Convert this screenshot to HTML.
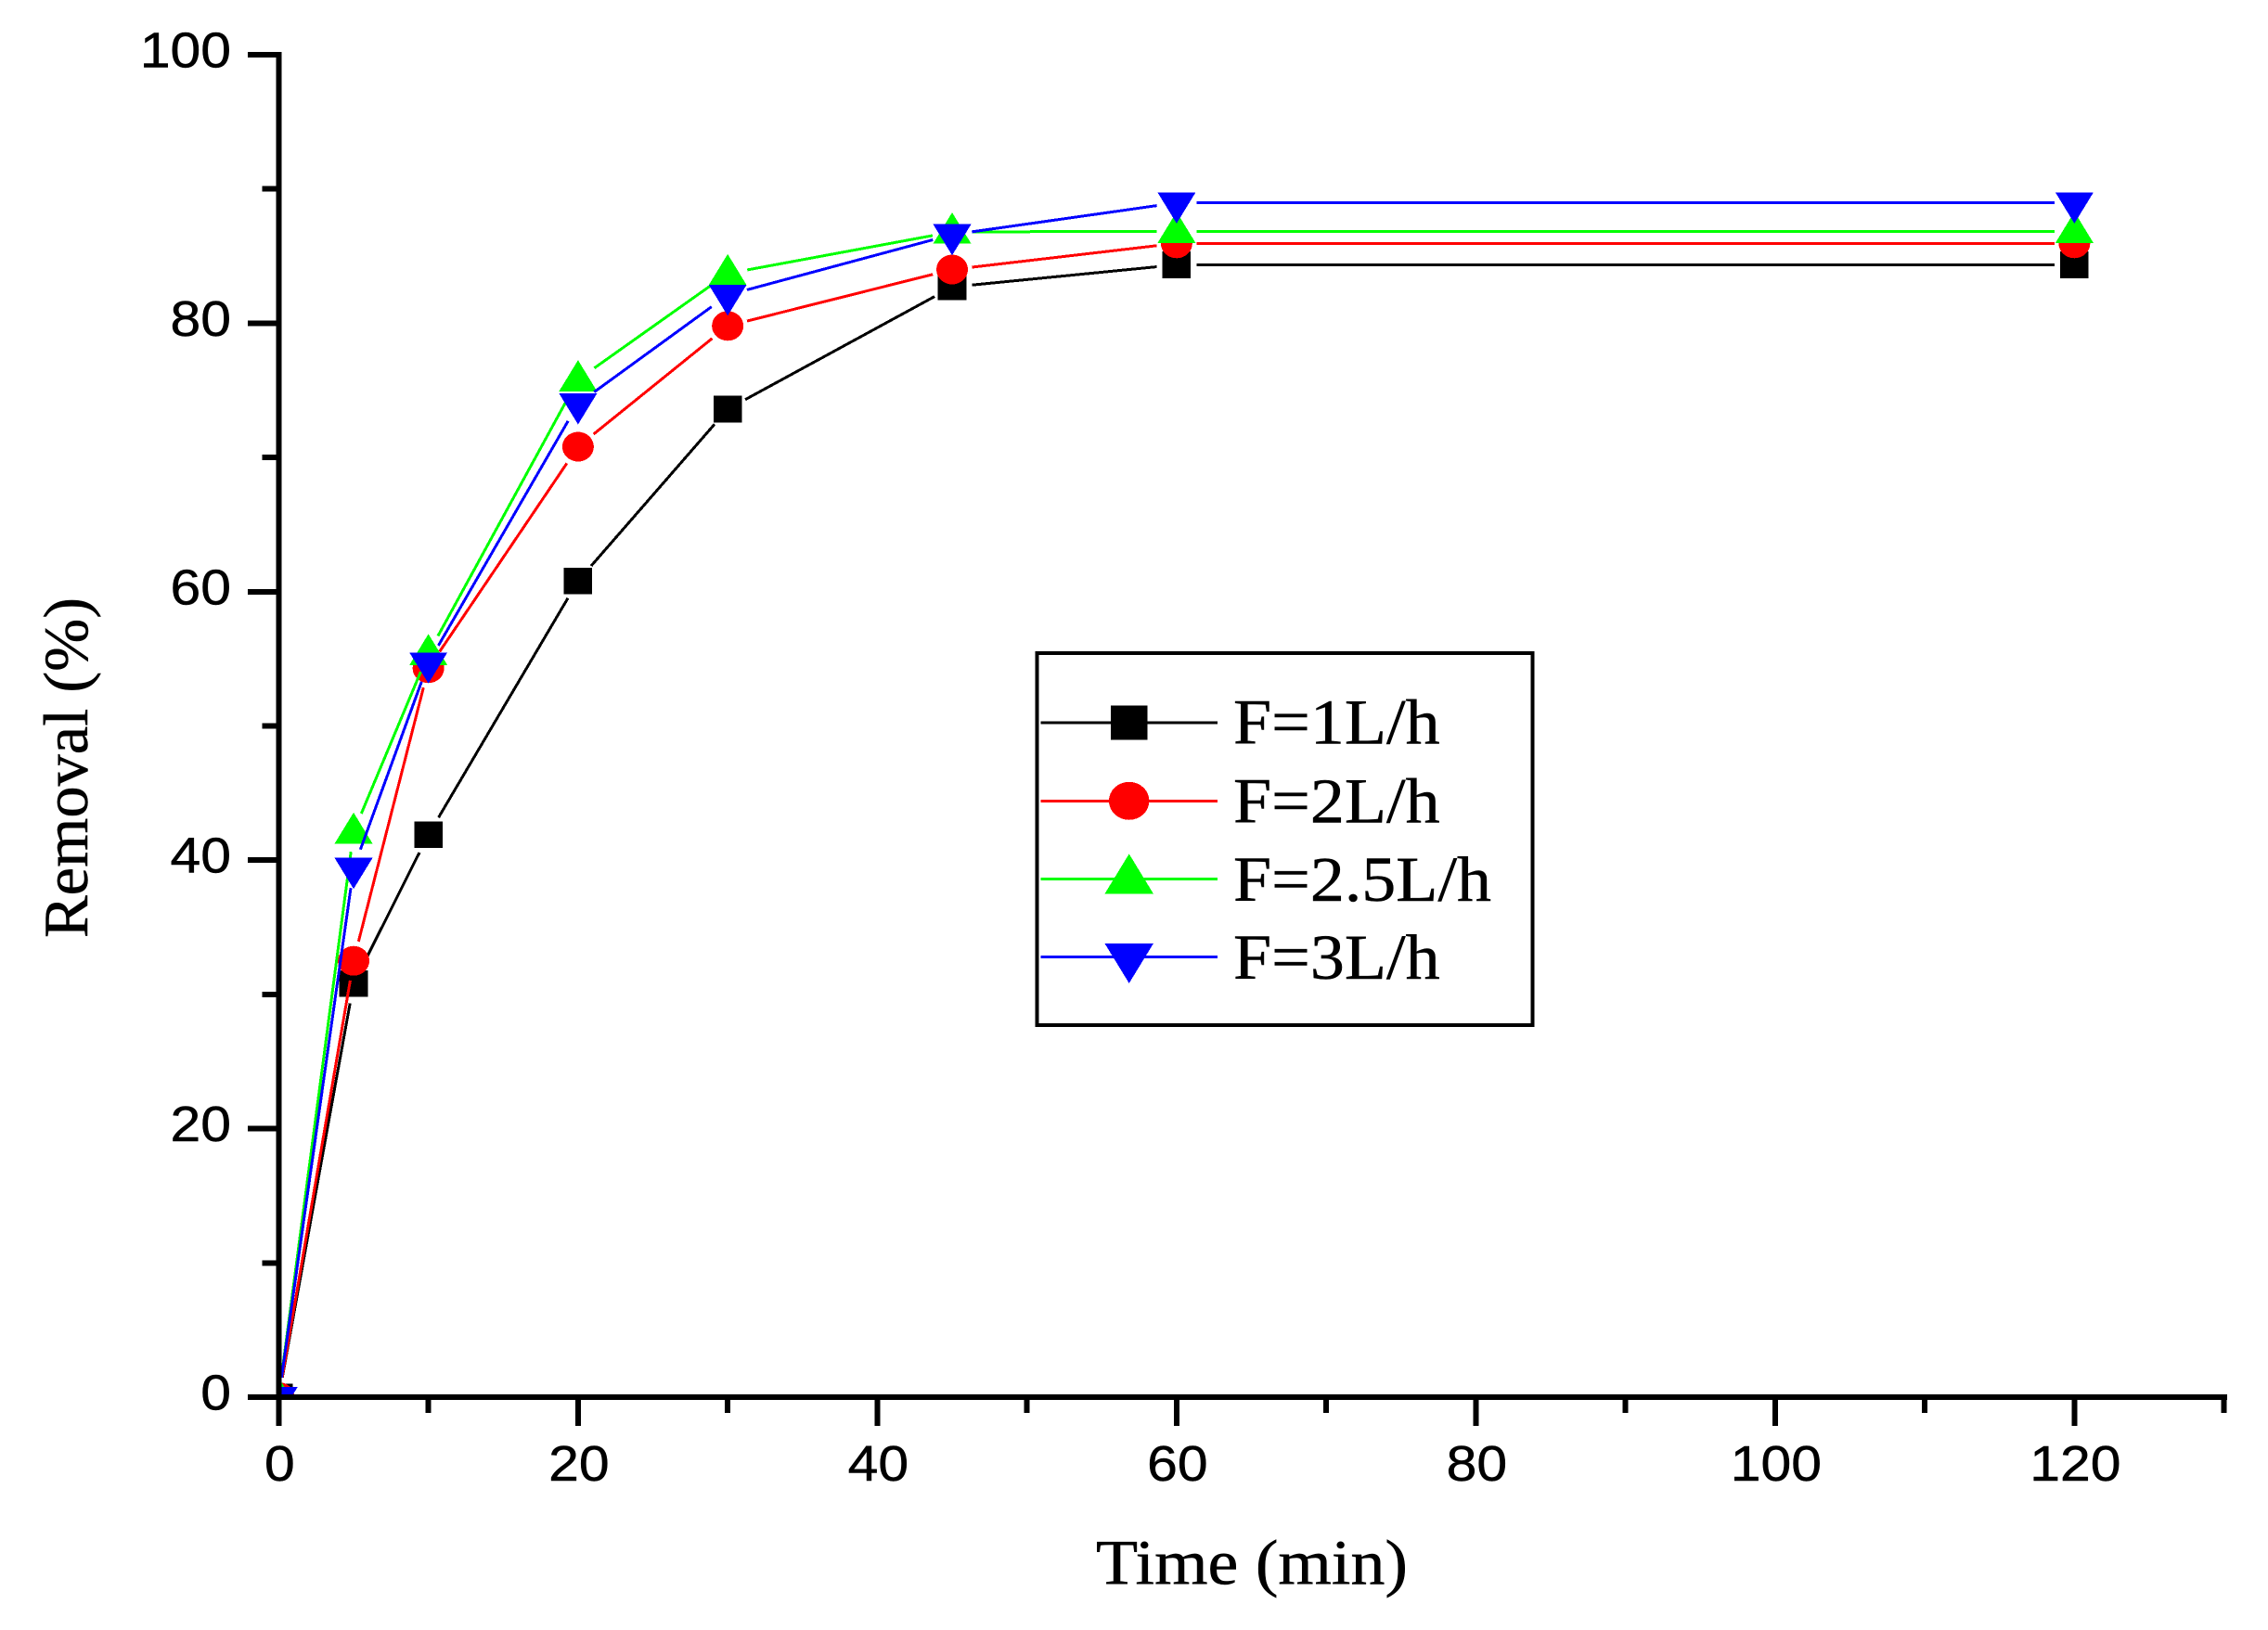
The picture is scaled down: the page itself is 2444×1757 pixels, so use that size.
<!DOCTYPE html>
<html lang="en">
<head>
<meta charset="utf-8">
<title>Removal vs Time</title>
<style>
html,body{margin:0;padding:0;background:#fff;}
svg{display:block;}
text{fill:#000;stroke:#000;stroke-width:0.5px;}
line,rect,polygon,ellipse{shape-rendering:crispEdges;}
.sans{font-family:"Liberation Sans",Arial,sans-serif;}
.serif{font-family:"Liberation Serif","Times New Roman",serif;}
</style>
</head>
<body>
<svg id="chart" xmlns="http://www.w3.org/2000/svg" width="2444" height="1757" viewBox="0 0 2444 1757">
  <defs>
    <clipPath id="plot-clip"><rect x="300" y="0" width="2144" height="1506"></rect></clipPath>
  </defs>
  <rect x="0" y="0" width="2444" height="1757" fill="#fff"></rect>
  <g id="series-layer"></g>
  <g id="axes-layer"></g>
  <text class="serif" x="1181" y="1707.5" font-size="69" textLength="336" lengthAdjust="spacingAndGlyphs">Time (min)</text>
  <text class="serif" transform="translate(94,1011) rotate(-90)" x="0" y="0" font-size="68" textLength="367" lengthAdjust="spacingAndGlyphs">Removal (%)</text>
  <rect x="1117.5" y="704" width="534" height="401" fill="#fff" stroke="#000" stroke-width="4"></rect>
  <g id="legend-layer"></g>
</svg>
<script>
const times = [0, 5, 10, 20, 30, 45, 60, 120];
const seriesNames = ["F=1L/h", "F=2L/h", "F=2.5L/h", "F=3L/h"];
const removal1 = [0, 30.8, 41.9, 60.8, 73.6, 82.7, 84.35, 84.35];
const removal2 = [0, 32.5, 54.3, 70.8, 79.8, 84.0, 85.95, 85.95];
const removal25 = [0, 42.1, 55.4, 75.8, 83.7, 86.8, 86.85, 86.85];
const removal3 = [0, 39.4, 54.7, 74.0, 82.1, 86.6, 88.97, 88.97];
const xMajorTicks = [0, 20, 40, 60, 80, 100, 120];
const xMinorTicks = [10, 30, 50, 70, 90, 110, 130];
const yMajorTicks = [0, 20, 40, 60, 80, 100];
const yMinorTicks = [10, 30, 50, 70, 90];

const NS = "http://www.w3.org/2000/svg";
function xScale(v) { return 300.4 + (v / 130) * 2096.25; }
function yScale(v) { return 1506 - (v / 100) * 1447; }
function make(tag, attrs, parent) {
  const el = document.createElementNS(NS, tag);
  for (const k in attrs) el.setAttribute(k, attrs[k]);
  parent.appendChild(el);
  return el;
}
function marker(kind, cx, cy, k, color, parent) {
  let el;
  if (kind === "square") {
    el = make("rect", { x: cx - 15.3 * k, y: cy - 14.3 * k, width: 30.6 * k, height: 28.6 * k, fill: color }, parent);
  } else if (kind === "circle") {
    el = make("ellipse", { cx: cx, cy: cy, rx: 17 * k, ry: 16 * k, fill: color }, parent);
  } else if (kind === "up") {
    const top = cy - 21 * k, bot = cy + 12.6 * k;
    el = make("polygon", { points: `${cx},${top} ${cx + 20.5 * k},${bot} ${cx - 20.5 * k},${bot}`, fill: color }, parent);
  } else {
    const top = cy - 11.2 * k, bot = cy + 22.3 * k;
    el = make("polygon", { points: `${cx - 20.5 * k},${top} ${cx + 20.5 * k},${top} ${cx},${bot}`, fill: color }, parent);
  }
  return el;
}

const seriesLayer = document.getElementById("series-layer");
const allSeries = [removal1, removal2, removal25, removal3];
const colors = ["#000000", "#ff0000", "#00ff00", "#0000ff"];
const kinds = ["square", "circle", "up", "down"];
const GAP = 21.5;
allSeries.forEach(function (values, s) {
  const g = make("g", { "clip-path": "url(#plot-clip)" }, seriesLayer);
  
  
  for (let i = 0; i < times.length - 1; i++) {
    const x1 = xScale(times[i]), y1 = yScale(values[i]);
    const x2 = xScale(times[i + 1]), y2 = yScale(values[i + 1]);
    const len = Math.hypot(x2 - x1, y2 - y1);
    if (len <= GAP * 2) continue;
    const ux = (x2 - x1) / len, uy = (y2 - y1) / len;
    const seg = make("line", {
      x1: x1 + ux * GAP, y1: y1 + uy * GAP,
      x2: x2 - ux * GAP, y2: y2 - uy * GAP,
      stroke: colors[s], "stroke-width": 3
    }, g);
    
    
  }
  times.forEach(function (t, i) {
    const m = marker(kinds[s], xScale(t), yScale(values[i]), 1, colors[s], g);
    
    
  });
});

const axes = document.getElementById("axes-layer");
const yLine = make("line", { x1: 300.4, y1: 56, x2: 300.4, y2: 1537, stroke: "#000", "stroke-width": 6 }, axes);


const xLine = make("line", { x1: 267, y1: 1506, x2: 2400, y2: 1506, stroke: "#000", "stroke-width": 6 }, axes);



function tickLabel(str, tx, ty, anchor, parent) {
  const t = make("text", {
    transform: `translate(${tx},${ty}) scale(1.09,1)`,
    "text-anchor": anchor,
    "font-size": 54,
    "class": "sans"
  }, parent);
  t.textContent = str;
  return t;
}
yMajorTicks.forEach(function (v) {
  const y = yScale(v);
  const tk = make("line", { x1: 267, y1: y, x2: 300, y2: y, stroke: "#000", "stroke-width": 6 }, axes);
  
  
  const lb = tickLabel(String(v), 249, y + 13.5, "end", axes);
  
  
});
yMinorTicks.forEach(function (v) {
  const y = yScale(v);
  const tk = make("line", { x1: 282.5, y1: y, x2: 300, y2: y, stroke: "#000", "stroke-width": 6 }, axes);
  
  
});
xMajorTicks.forEach(function (v) {
  const x = xScale(v);
  const tk = make("line", { x1: x, y1: 1506, x2: x, y2: 1537, stroke: "#000", "stroke-width": 6 }, axes);
  
  
  const lb = tickLabel(String(v), x + 1, 1596, "middle", axes);
  
  
});
xMinorTicks.forEach(function (v) {
  const x = xScale(v);
  const tk = make("line", { x1: x, y1: 1506, x2: x, y2: 1523, stroke: "#000", "stroke-width": 6 }, axes);
  
  
});

const legend = document.getElementById("legend-layer");
const legendLineY = [779, 863.3, 947.3, 1031.3];
const legendBase = [801.7, 886.7, 971, 1055];
seriesNames.forEach(function (name, i) {
  const entry = make("g", {}, legend);
  
  
  const ln = make("line", { x1: 1121.5, y1: legendLineY[i], x2: 1312, y2: legendLineY[i], stroke: colors[i], "stroke-width": 3 }, entry);
  
  
  const mk = marker(kinds[i], 1216.7, legendLineY[i], 1.28, colors[i], entry);
  
  
  const tx = make("text", {
    x: 1329, y: legendBase[i], "font-size": 69, "class": "serif",
    textLength: (name.length === 8 ? 278 : 222.6), lengthAdjust: "spacingAndGlyphs"
  }, entry);
  tx.textContent = name;
  
  
});
</script>
</body>
</html>
